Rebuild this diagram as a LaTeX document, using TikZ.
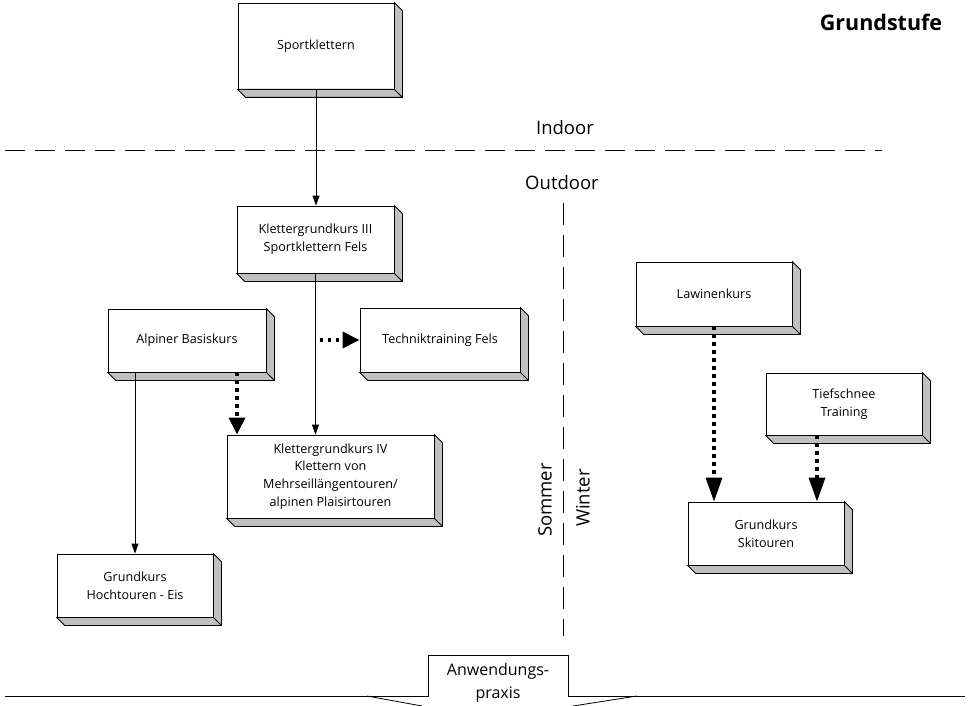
\documentclass[tikz,border=0pt]{standalone}
\usepackage{fontspec}
\setmainfont{Open Sans}
\usepackage{tikz}
\usetikzlibrary{arrows.meta}
\definecolor{boxgray}{RGB}{192,192,192}

\tikzset{
  kurs/.style={draw, fill=white, line width=0.8pt, align=center,
    font=\fontsize{12.6}{17.7}\selectfont, inner sep=0pt},
  pfeil/.style={line width=0.8pt, -{Triangle[length=10pt,width=7pt]}},
  punktpfeil/.style={line width=3.3pt, dash pattern=on 3.5pt off 4.5pt,
    -{Triangle[length=17pt,width=16pt]}},
  trennlinie/.style={line width=0.8pt, dash pattern=on 20pt off 10pt},
  bereich/.style={font=\fontsize{18.5}{22}\selectfont}
}

\begin{document}
\begin{tikzpicture}[x=1pt,y=-1pt]
            \useasboundingbox (0,0) rectangle (969,706);
            % Kurse
            \node[kurs, minimum width=156, minimum height=86] (sport) at (316,46) {Sportklettern};
            \node[kurs, minimum width=157, minimum height=67] (kgdrei) at (315.5,239.5) {Klettergrundkurs III\\Sportklettern Fels};
            \node[kurs, minimum width=158, minimum height=63] (alpin) at (187,340.5) {Alpiner Basiskurs};
            \node[kurs, minimum width=160, minimum height=64] (technik) at (440,340) {Techniktraining Fels};
            \node[kurs, minimum width=207, minimum height=83] (kgvier) at (330.5,476.5) {Klettergrundkurs IV\\Klettern von\\Mehrseillängentouren/\\alpinen Plaisirtouren};
            \node[kurs, minimum width=156, minimum height=63] (hoch) at (135,585.5) {Grundkurs\\Hochtouren - Eis};
            \node[kurs, minimum width=156, minimum height=64] (lawine) at (714,294) {Lawinenkurs};
            \node[kurs, minimum width=156, minimum height=62] (tief) at (844,404) {Tiefschnee\\Training};
            \node[kurs, minimum width=156, minimum height=63] (ski) at (766,533.5) {Grundkurs\\Skitouren};
            % 3D-Kanten
            \foreach \n in {sport,kgdrei,alpin,technik,kgvier,hoch,lawine,tief,ski}
              \draw[fill=boxgray, line width=0.8pt] (\n.north east) -- ++(8,8) -- ([shift={(8,8)}]\n.south east)
                -- ([shift={(8,8)}]\n.south west) -- (\n.south west) -- (\n.south east) -- cycle
                (\n.south east) -- ++(8,8);
            % Bereiche
            \node[bereich] (indoor) at (565,128) {Indoor};
            \node[bereich] (outdoor) at (562,183) {Outdoor};
            \node[bereich, rotate=90] (sommer) at (545,500) {Sommer};
            \node[bereich, rotate=90] (winter) at (583,498) {Winter};
            \node[font=\fontsize{21.5}{24}\selectfont\bfseries] (stufe) at (881,22) {Grundstufe};
            \coordinate (hlinks) at (5,150);
            \coordinate (hrechts) at (882,150);
            \coordinate (voben) at (563,203);
            \coordinate (vunten) at (563,636);
            \draw[trennlinie] (hlinks) -- (hrechts);
            \draw[trennlinie, dash pattern=on 22pt off 10pt] (voben) -- (vunten);
            % Verbindungen
            \draw[pfeil] (sport.south) -- (sport.south |- kgdrei.north);
            \draw[pfeil] (kgdrei.south) -- (kgdrei.south |- kgvier.north);
            \draw[pfeil] (hoch.north |- alpin.south) -- (hoch.north);
            \coordinate (abzweig) at ([xshift=4pt]kgdrei.south |- technik.west);
            \draw[punktpfeil] (abzweig) -- (technik.west);
            \draw[punktpfeil] ([xshift=50pt]alpin.south) -- ([xshift=50pt]alpin.south |- kgvier.north);
            \draw[punktpfeil, -{Triangle[length=24pt,width=16pt]}] (lawine.south) -- (lawine.south |- ski.north);
            \draw[punktpfeil, -{Triangle[length=24pt,width=16pt]}] ([xshift=-27pt]tief.south) -- ([xshift=-27pt]tief.south |- ski.north);
            % Anwendungspraxis
            \draw[line width=0.8pt] (5,696) -- (428,696) |- (568,655) -- (568,696) -- (965,696);
            \draw[line width=0.8pt] (367,696) -- (422,706) (573,706) -- (637,696);
            \node[align=center, font=\fontsize{16}{23}\selectfont] (praxis) at (498,683) {Anwendungs-\\praxis};
        \end{tikzpicture}
\end{document}
